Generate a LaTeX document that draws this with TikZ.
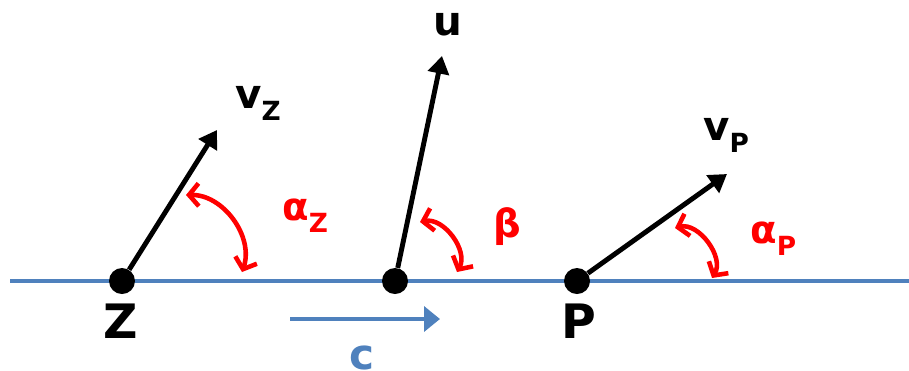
\documentclass[tikz,border=0pt]{standalone}
\usepackage{fontspec}
\setmainfont{DejaVu Sans}
\usetikzlibrary{arrows.meta}
\definecolor{lineblue}{RGB}{79,129,189}
\newcommand{\sublabel}[3]{{\fontsize{#1}{#1}\selectfont #2}\raisebox{-7pt}{\fontsize{15}{15}\selectfont #3}}
\tikzset{
  vec/.style={line width=2.8pt,-{Triangle[length=10pt,width=12pt]}},
  angarc/.style={red,line width=2.6pt,{Straight Barb[length=5.5pt,width=13pt]}-{Straight Barb[length=5.5pt,width=13pt]}},
  dot/.style={circle,fill=black,inner sep=0pt,minimum size=0.52cm},
  lbl/.style={inner sep=0pt,font=\bfseries}
}
\begin{document}
\begin{tikzpicture}[x=0.02cm,y=-0.02cm]
  \useasboundingbox (0,0) rectangle (909,370);
  \draw[lineblue,line width=2.4pt] (10,281) -- (909,281);
  \node[dot] (Z) at (122,281) {};
  \node[dot] (M) at (395,281) {};
  \node[dot] (P) at (577,281) {};
  \coordinate (vZ) at (217,130);
  \coordinate (u) at (442,56);
  \coordinate (vP) at (727,174);
  \draw[vec] (Z) -- (vZ);
  \draw[vec] (M) -- (u);
  \draw[vec] (P) -- (vP);
  \coordinate (aZ1) at (186,195);
  \coordinate (aZ2) at (242,272);
  \coordinate (b1) at (420,222);
  \coordinate (b2) at (457,272);
  \coordinate (aP1) at (675,228);
  \coordinate (aP2) at (712,278);
  \draw[angarc] (aZ1) to[bend left=55] (aZ2);
  \draw[angarc] (b1) to[bend left=65] (b2);
  \draw[angarc] (aP1) to[bend left=68] (aP2);
  \coordinate (c1) at (290,319);
  \coordinate (c2) at (440,319);
  \draw[lineblue,line width=2.6pt,-{Triangle[length=9pt,width=14pt]}] (c1) -- (c2);
  \node[lbl,anchor=base west] (vZlabel) at (235,108) {\sublabel{23}{v}{Z}};
  \node[lbl,anchor=base] (ulabel) at (448,35) {\fontsize{23}{23}\selectfont u};
  \node[lbl,anchor=base west] (vPlabel) at (703,140) {\sublabel{23}{v}{P}};
  \node[lbl,anchor=base west,red] (aZlabel) at (282,220) {\sublabel{22}{α}{Z}};
  \node[lbl,anchor=base,red] (blabel) at (507,237) {\fontsize{22}{22}\selectfont β};
  \node[lbl,anchor=base west,red] (aPlabel) at (750,243) {\sublabel{22}{α}{P}};
  \node[lbl,anchor=base] (Zlabel) at (121,338) {\fontsize{27}{27}\selectfont Z};
  \node[lbl,anchor=base] (Plabel) at (579,338) {\fontsize{27}{27}\selectfont P};
  \node[lbl,anchor=base,lineblue] (clabel) at (362,369) {\fontsize{24}{24}\selectfont c};
\end{tikzpicture}
\end{document}
